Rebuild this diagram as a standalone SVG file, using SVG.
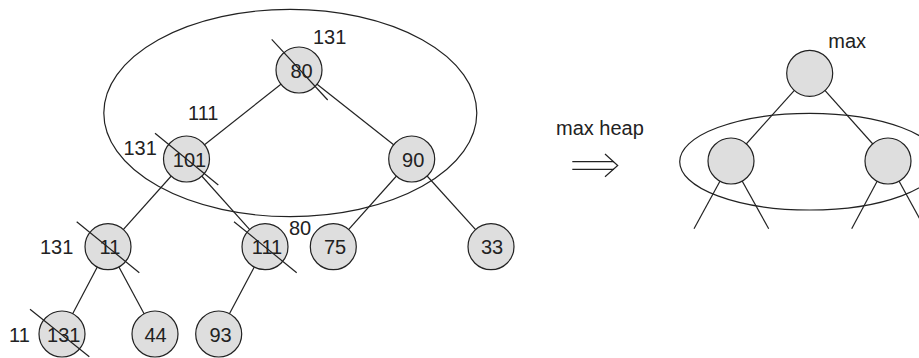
<svg xmlns="http://www.w3.org/2000/svg" width="919" height="358" viewBox="0 0 919 358">
  <style>
    .edge { stroke: #222; stroke-width: 1.2; fill: none; }
    .node circle { fill: #dedede; stroke: #222; stroke-width: 1.2; }
    .ring { fill: none; stroke: #222; stroke-width: 1.2; }
    .strike { stroke: #222; stroke-width: 1.2; }
    text { font-family: "Liberation Sans", Arial, sans-serif; font-size: 20px; fill: #222; }
    .val { text-anchor: middle; }
  </style>
  <rect width="919" height="358" fill="#fff"/>

  <!-- tree edges -->
  <g id="connectors">
    <line class="edge" x1="299" y1="70" x2="186.5" y2="159"/>
    <line class="edge" x1="299" y1="70" x2="411.7" y2="159"/>
    <line class="edge" x1="186.5" y1="159" x2="108" y2="246.7"/>
    <line class="edge" x1="186.5" y1="159" x2="265" y2="246.7"/>
    <line class="edge" x1="411.7" y1="159" x2="333.3" y2="246.7"/>
    <line class="edge" x1="411.7" y1="159" x2="491" y2="246.7"/>
    <line class="edge" x1="108" y1="246.7" x2="62" y2="334"/>
    <line class="edge" x1="108" y1="246.7" x2="155" y2="334"/>
    <line class="edge" x1="265" y1="246.7" x2="218.7" y2="334"/>
    <!-- schematic heap -->
    <line class="edge" x1="809.7" y1="73.3" x2="731" y2="161"/>
    <line class="edge" x1="809.7" y1="73.3" x2="888" y2="161"/>
    <line class="edge" x1="731" y1="161" x2="694" y2="228.7"/>
    <line class="edge" x1="731" y1="161" x2="768.7" y2="228.7"/>
    <line class="edge" x1="888" y1="161" x2="851.7" y2="228.7"/>
    <line class="edge" x1="888" y1="161" x2="928" y2="234"/>
    <!-- implication arrow -->
    <line class="edge" x1="572.3" y1="161.7" x2="614" y2="161.7"/>
    <line class="edge" x1="572.3" y1="169.3" x2="614" y2="169.3"/>
    <polyline class="edge" points="605,154 617.7,165.5 605,176.7"/>
  </g>

  <!-- subtree groupings -->
  <ellipse class="ring" cx="290.3" cy="113" rx="186.5" ry="103.7"/>
  <ellipse class="ring" cx="809.7" cy="161.7" rx="130" ry="48.3"/>

  <!-- nodes -->
  <g id="n80" class="node"><circle cx="299" cy="70" r="23"/><text class="val" x="301.5" y="77.5">80</text></g>
  <g id="n101" class="node"><circle cx="186.5" cy="159" r="23"/><text class="val" x="189.5" y="166.5">101</text></g>
  <g id="n90" class="node"><circle cx="411.7" cy="159" r="23"/><text class="val" x="413.2" y="166.5">90</text></g>
  <g id="n11" class="node"><circle cx="108" cy="246.7" r="23"/><text class="val" x="110" y="254.2">11</text></g>
  <g id="n111" class="node"><circle cx="265" cy="246.7" r="23"/><text class="val" x="267" y="254.2">111</text></g>
  <g id="n75" class="node"><circle cx="333.3" cy="246.7" r="23"/><text class="val" x="335" y="254.2">75</text></g>
  <g id="n33" class="node"><circle cx="491" cy="246.7" r="23"/><text class="val" x="492" y="254.2">33</text></g>
  <g id="n131" class="node"><circle cx="62" cy="334" r="23"/><text class="val" x="63.8" y="341.5">131</text></g>
  <g id="n44" class="node"><circle cx="155" cy="334" r="23"/><text class="val" x="155.5" y="341.5">44</text></g>
  <g id="n93" class="node"><circle cx="218.7" cy="334" r="23"/><text class="val" x="220.5" y="341.5">93</text></g>
  <g id="hmax" class="node"><circle cx="809.7" cy="73.3" r="23"/></g>
  <g id="hleft" class="node"><circle cx="731" cy="161" r="23"/></g>
  <g id="hright" class="node"><circle cx="888" cy="161" r="23"/></g>

  <!-- struck-out values -->
  <line class="strike" x1="271.7" y1="39.3" x2="327.7" y2="100"/>
  <line class="strike" x1="155" y1="133.3" x2="218.3" y2="185"/>
  <line class="strike" x1="76.7" y1="221.7" x2="139.3" y2="272.7"/>
  <line class="strike" x1="234" y1="221.7" x2="296.7" y2="272.7"/>
  <line class="strike" x1="30" y1="309.3" x2="89.3" y2="356.7"/>

  <!-- replacement values and captions -->
  <text x="313" y="44">131</text>
  <text x="188" y="120">111</text>
  <text x="123.5" y="155">131</text>
  <text x="40" y="254">131</text>
  <text x="289" y="235">80</text>
  <text x="9" y="342">11</text>
  <text x="556" y="135">max heap</text>
  <text x="828.3" y="48.3">max</text>
</svg>
